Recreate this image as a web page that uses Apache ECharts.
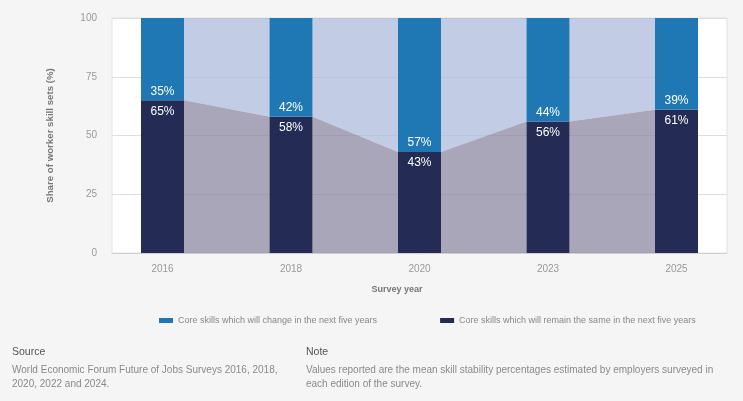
<!DOCTYPE html>
<html>
<head>
<meta charset="utf-8">
<script src="https://cdn.jsdelivr.net/npm/echarts@6/dist/echarts.min.js"></script>
<style>
html,body{margin:0;padding:0;background:#f5f5f5;}
#chart{width:743px;height:401px;}
</style>
</head>
<body>
<div id="chart"></div>
<script>
const years = ['2016', '2018', '2020', '2023', '2025'];
const changeShare = [35, 42, 57, 44, 39];
const remainShare = [65, 58, 43, 56, 61];
const yTicks = [0, 25, 50, 75, 100];
const seriesNames = ['Core skills which will change in the next five years', 'Core skills which will remain the same in the next five years'];

const BAR_W = 43;
const FONT = "'Liberation Sans', Arial, sans-serif";

const segments = remainShare.slice(0, -1).map((v, i) => [i, v, remainShare[i + 1]]);

const chart = echarts.init(document.getElementById('chart'));
chart.setOption({
  backgroundColor: '#f5f5f5',
  animation: false,
  grid: [
    { left: 162.5, right: 66.5, top: 18, bottom: 148 },
    { left: 112, right: 16, top: 18, bottom: 148, show: true, backgroundColor: '#ffffff', borderColor: '#e2e2e2', borderWidth: 1 }
  ],
  xAxis: [
    { type: 'category', gridIndex: 0, data: years, boundaryGap: false,
      axisLine: { show: false }, axisTick: { show: false }, splitLine: { show: false },
      axisLabel: { color: '#999', fontSize: 10, fontFamily: FONT, margin: 11 } },
    { type: 'value', gridIndex: 1, min: 0, max: 1, interval: 1,
      axisLine: { show: true, lineStyle: { color: '#d0d0d0' } }, axisTick: { show: false },
      axisLabel: { show: false }, splitLine: { show: false } }
  ],
  yAxis: [
    { type: 'value', gridIndex: 0, min: 0, max: 100, interval: 25, show: false, splitLine: { show: false } },
    { type: 'value', gridIndex: 1, min: 0, max: 100, interval: 25,
      axisLine: { show: false }, axisTick: { show: false },
      axisLabel: { color: '#999', fontSize: 10, fontFamily: FONT, margin: 15, customValues: yTicks },
      splitLine: { show: true, lineStyle: { color: '#dedede' } } }
  ],
  legend: {
    left: 159, top: 316, width: 620, padding: 0, itemWidth: 14, itemHeight: 5, itemGap: 63, icon: 'rect',
    data: [seriesNames[0], seriesNames[1]],
    textStyle: { color: '#888', fontSize: 9, fontFamily: FONT },
    selectedMode: false
  },
  graphic: [
    { type: 'text', x: 50, y: 135.5, rotation: Math.PI / 2,
      style: { text: 'Share of worker skill sets (%)', fill: '#777', font: 'bold 9.7px ' + FONT, textAlign: 'center', textVerticalAlign: 'middle' } },
    { type: 'text', x: 397, y: 290,
      style: { text: 'Survey year', fill: '#777', font: 'bold 9px ' + FONT, textAlign: 'center', textVerticalAlign: 'middle' } },
    { type: 'text', x: 12, y: 352,
      style: { text: 'Source', fill: '#555', font: '10.5px ' + FONT, textVerticalAlign: 'middle' } },
    { type: 'text', x: 12, y: 363,
      style: { text: 'World Economic Forum Future of Jobs Surveys 2016, 2018,\n2020, 2022 and 2024.', fill: '#8a8a8a', font: '10px ' + FONT, lineHeight: 14 } },
    { type: 'text', x: 306, y: 352,
      style: { text: 'Note', fill: '#555', font: '10.5px ' + FONT, textVerticalAlign: 'middle' } },
    { type: 'text', x: 306, y: 363,
      style: { text: 'Values reported are the mean skill stability percentages estimated by employers surveyed in\neach edition of the survey.', fill: '#8a8a8a', font: '10px ' + FONT, lineHeight: 14 } }
  ],
  series: [
    {
      type: 'custom', xAxisIndex: 0, yAxisIndex: 0, z: 1, silent: true,
      data: segments,
      encode: { x: 0, y: 1 },
      renderItem: function (params, api) {
        const i = api.value(0);
        const a = api.coord([i, api.value(1)]);
        const b = api.coord([i + 1, api.value(2)]);
        const top = api.coord([i, 100])[1];
        const base = api.coord([i, 0])[1];
        const hw = BAR_W / 2;
        const x0 = a[0] + hw, x1 = b[0] - hw;
        return {
          type: 'group',
          children: [
            { type: 'polygon', shape: { points: [[x0, top], [x1, top], [x1, b[1]], [x0, a[1]]] },
              style: { fill: 'rgba(172,184,219,0.72)' } },
            { type: 'polygon', shape: { points: [[x0, a[1]], [x1, b[1]], [x1, base], [x0, base]] },
              style: { fill: 'rgba(136,132,158,0.72)' } }
          ]
        };
      }
    },
    {
      name: seriesNames[1], type: 'bar', stack: 'total', xAxisIndex: 0, yAxisIndex: 0,
      barWidth: BAR_W, z: 3, data: remainShare,
      itemStyle: { color: '#242b54' },
      label: { show: true, position: 'insideTop', distance: 5, color: '#fff', fontSize: 12, fontFamily: FONT, formatter: '{c}%' }
    },
    {
      name: seriesNames[0], type: 'bar', stack: 'total', xAxisIndex: 0, yAxisIndex: 0,
      barWidth: BAR_W, z: 3, data: changeShare,
      itemStyle: { color: '#1f77b4' },
      label: { show: true, position: 'insideBottom', distance: 3, color: '#fff', fontSize: 12, fontFamily: FONT, formatter: '{c}%' }
    }
  ]
});
</script>
</body>
</html>
